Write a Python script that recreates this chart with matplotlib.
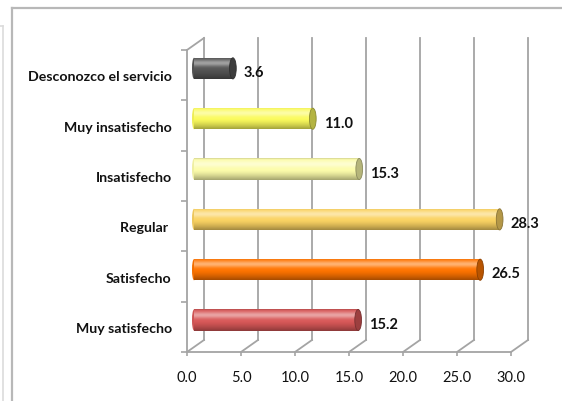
import numpy as np
import matplotlib
matplotlib.use("Agg")
import matplotlib.pyplot as plt
from matplotlib.patches import Rectangle, Ellipse
from matplotlib.lines import Line2D
from matplotlib.transforms import offset_copy
from matplotlib.colors import to_rgb

# ---- data ----
categories = ["Muy satisfecho", "Satisfecho", "Regular ", "Insatisfecho",
              "Muy insatisfecho", "Desconozco el servicio"]
values = [15.2, 26.5, 28.3, 15.3, 11.0, 3.6]
colors = ["#d85858", "#ff7400", "#fad262", "#fcfcaa", "#fafa5c", "#555555"]
xticks = [0, 5, 10, 15, 20, 25, 30]

plt.rcParams['font.family'] = ['Lato', 'DejaVu Sans']

W, H = 562, 401
fig = plt.figure(figsize=(W / 100, H / 100), dpi=100)
fig.patch.set_facecolor("white")

# front plane: x 187..511 px, y 50..352 px
ax = fig.add_axes([187 / W, 1 - 352 / H, 324 / W, 302 / H])
ax.set_xlim(0, 30)
ax.set_ylim(0, 6)
ax.set_facecolor("none")

grid_c = "#a4a4a4"
DX, DY = 17, 12  # depth offset in px
back = offset_copy(ax.transData, fig, x=DX, y=DY, units='dots')
mid = offset_copy(ax.transData, fig, x=7, y=6.8, units='dots')

# back wall gridlines
for xv in xticks:
    ax.plot([xv, xv], [0, 6], color=grid_c, lw=1.3, transform=back, clip_on=False, zorder=1)
# floor diagonals and left wall top diagonal
for xv in xticks:
    p0 = ax.transData.transform((xv, 0))
    p1 = back.transform((xv, 0))
    ax.add_line(Line2D([p0[0], p1[0]], [p0[1], p1[1]], transform=None,
                       color=grid_c, lw=1.3, zorder=1, clip_on=False))
p0 = ax.transData.transform((0, 6))
p1 = back.transform((0, 6))
ax.add_line(Line2D([p0[0], p1[0]], [p0[1], p1[1]], transform=None,
                   color=grid_c, lw=1.3, zorder=1, clip_on=False))

# spines / ticks
for s in ["top", "right"]:
    ax.spines[s].set_visible(False)
for s in ["left", "bottom"]:
    ax.spines[s].set_color(grid_c)
    ax.spines[s].set_linewidth(1.3)
ax.set_xticks(xticks)
ax.set_xticklabels([f"{v:.1f}" for v in xticks], fontsize=10.5, color="#111111")
ax.tick_params(axis='x', length=3, width=1.2, color=grid_c, pad=11)
ax.set_yticks(range(7))
ax.set_yticklabels([])
ax.tick_params(axis='y', which='major', length=4, width=1.2, color=grid_c)
ax.set_yticks([i + 0.46 for i in range(6)], minor=True)
ax.set_yticklabels(categories, minor=True, fontsize=10.2, fontweight='bold', color="#111111")
ax.tick_params(axis='y', which='minor', length=0, pad=11)
for lab in ax.get_yticklabels(minor=True):
    lab.set_va('center')

# cylinders
bh = 0.42
cap_w = 0.62
t = np.linspace(0, 1, 64)  # 0 = top, 1 = bottom
def shade(base):
    b = np.array(to_rgb(base))
    rows = []
    for tt in t:
        hl = 0.45 * np.exp(-((tt - 0.27) / 0.15) ** 2)
        dk = 0.35 * max(0.0, (tt - 0.55) / 0.45) ** 1.4 + 0.15 * np.exp(-(tt / 0.04) ** 2)
        c = b + (1 - b) * hl
        c = c * (1 - dk)
        rows.append(np.clip(c, 0, 1))
    return np.array(rows).reshape(-1, 1, 3)

for i, (v, c) in enumerate(zip(values, colors)):
    y0 = i + 0.5 - bh / 2
    rect = Rectangle((0, y0), v, bh, transform=mid, facecolor="none", edgecolor="none")
    ax.add_patch(rect)
    im = ax.imshow(shade(c), extent=[0, v, y0, y0 + bh], transform=mid, origin='upper',
                   aspect='auto', interpolation='bilinear', zorder=3)
    im.set_clip_path(rect)
    lc = np.array(to_rgb(c))
    ax.add_patch(Ellipse((0, i + 0.5), cap_w * 0.6, bh, transform=mid,
                         facecolor=lc * 0.95, edgecolor="none", zorder=2.9))
    ax.add_patch(Ellipse((v, i + 0.5), cap_w, bh, transform=mid,
                         facecolor=lc * 0.72, edgecolor=lc * 0.55, lw=0.6, zorder=4))
    lbl = offset_copy(ax.transData, fig, x=18, y=2, units='dots')
    ax.text(v, i + 0.5, f"{v:.1f}", transform=lbl, ha='left', va='center',
            fontsize=10.5, fontweight='bold', color="#111111", zorder=5)

ax.set_xlim(0, 30)
ax.set_ylim(0, 6)

# outer chart border (figure decoration)
fig.add_artist(Line2D([11.5 / W, 11.5 / W], [0, 1 - 7.5 / H], color="#b8b8b8", lw=1.6))
fig.add_artist(Line2D([11.5 / W, 1], [1 - 7.5 / H, 1 - 7.5 / H], color="#b8b8b8", lw=1.6))
fig.add_artist(Line2D([3 / W, 3 / W], [0, 1 - 26 / H], color="#dcdcdc", lw=1.2))
fig.add_artist(Line2D([0, 3 / W], [1 - 26 / H, 1 - 26 / H], color="#dcdcdc", lw=1.2))

fig.savefig("out.png", dpi=100)
